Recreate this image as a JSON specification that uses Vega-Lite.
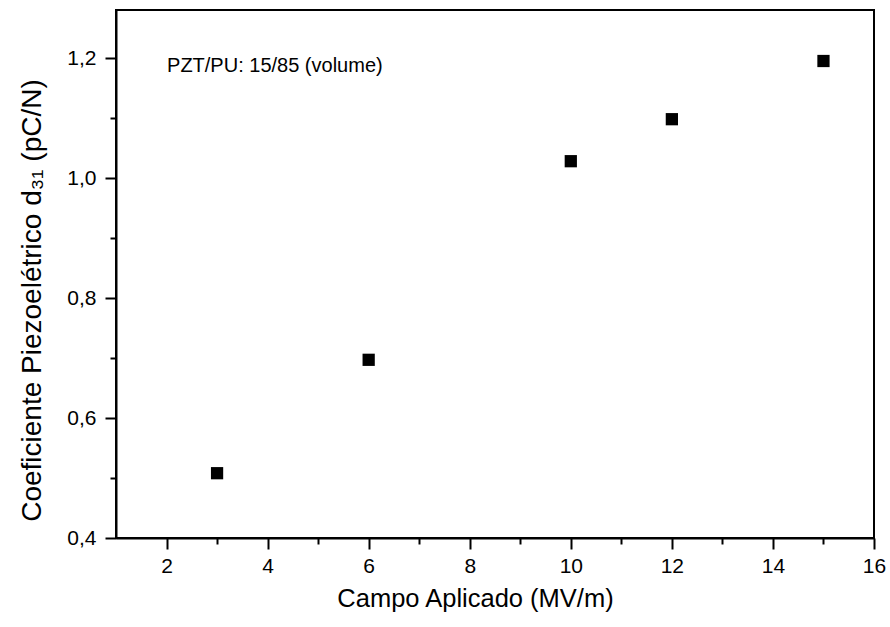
{
  "$schema": "https://vega.github.io/schema/vega-lite/v6.json",
  "width": 758,
  "height": 528,
  "autosize": {"type": "none"},
  "padding": {"left": 116, "top": 10, "right": 16, "bottom": 89},
  "background": "white",
  "config": {
    "view": {"stroke": "black", "strokeWidth": 2},
    "font": "Liberation Sans"
  },
  "layer": [
    {
      "data": {
        "values": [
          {"campo": 3, "d31": 0.508},
          {"campo": 6, "d31": 0.697},
          {"campo": 10, "d31": 1.028},
          {"campo": 12, "d31": 1.098},
          {"campo": 15, "d31": 1.195}
        ]
      },
      "mark": {"type": "square", "size": 150, "color": "black", "opacity": 1, "filled": true},
      "encoding": {
        "x": {
          "field": "campo",
          "type": "quantitative",
          "scale": {"domain": [1, 16], "nice": false, "zero": false},
          "axis": {
            "title": "Campo Aplicado (MV/m)",
            "values": [2, 3, 4, 5, 6, 7, 8, 9, 10, 11, 12, 13, 14, 15, 16],
            "labelExpr": "datum.value % 2 === 0 ? datum.label : ''",
            "tickSize": {"condition": {"test": "datum.value % 2 === 0", "value": 11}, "value": 6},
            "tickColor": "black",
            "tickWidth": 2,
            "domainColor": "black",
            "domainWidth": 2,
            "grid": false,
            "labelFont": "Liberation Sans",
            "labelFontSize": 21,
            "labelColor": "black",
            "labelPadding": 6,
            "titleFont": "Liberation Sans",
            "titleFontSize": 25.5,
            "titleFontWeight": "normal",
            "titleColor": "black",
            "titlePadding": 10,
            "titleX": 359,
            "labelFlush": false
          }
        },
        "y": {
          "field": "d31",
          "type": "quantitative",
          "scale": {"domain": [0.4, 1.28], "nice": false, "zero": false},
          "axis": {
            "title": "Coeficiente Piezoelétrico d₃₁ (pC/N)",
            "values": [0.4, 0.5, 0.6, 0.7, 0.8, 0.9, 1.0, 1.1, 1.2],
            "labelExpr": "round(datum.value * 10) % 2 === 0 ? replace(format(datum.value, '.1f'), '.', ',') : ''",
            "tickSize": {"condition": {"test": "round(datum.value * 10) % 2 === 0", "value": 11}, "value": 6},
            "tickColor": "black",
            "tickWidth": 2,
            "domainColor": "black",
            "domainWidth": 2,
            "grid": false,
            "labelFont": "Liberation Sans",
            "labelFontSize": 21,
            "labelColor": "black",
            "labelPadding": 9,
            "titleFont": "Liberation Sans",
            "titleFontSize": 28,
            "titleFontWeight": "normal",
            "titleColor": "black",
            "titlePadding": 20,
            "titleY": 290,
            "labelFlush": false
          }
        }
      }
    },
    {
      "data": {"values": [{"campo": 2.01, "d31": 1.186, "texto": "PZT/PU: 15/85 (volume)"}]},
      "mark": {"type": "text", "align": "left", "baseline": "middle", "fontSize": 20, "font": "Liberation Sans", "color": "black"},
      "encoding": {
        "x": {"field": "campo", "type": "quantitative"},
        "y": {"field": "d31", "type": "quantitative"},
        "text": {"field": "texto"}
      }
    }
  ]
}
